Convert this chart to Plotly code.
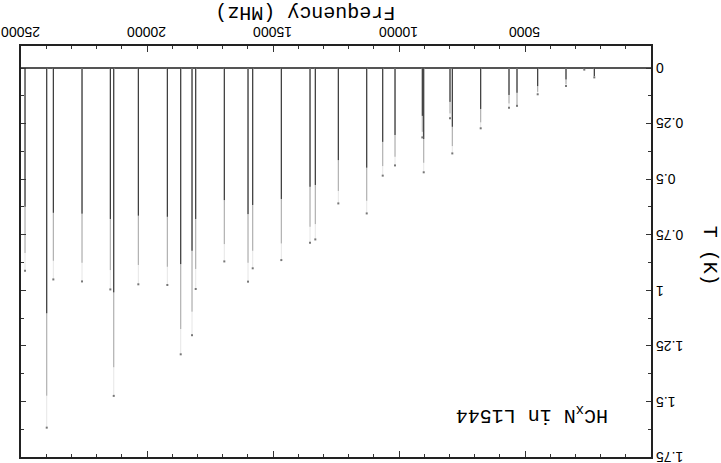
import plotly.graph_objects as go

# Line frequencies (MHz)
freq = [24840, 23979, 23717, 22578, 21455, 21320, 20344, 19193, 18662, 18213,
        18067, 16932, 15991, 15805, 14670, 13531, 13321, 12408, 11281, 10646,
        10158, 9075, 9019, 7976, 7885, 6758, 5635, 5317, 4496, 3373, 2647, 2250]
# Peak brightness temperatures (K): low / mid / high estimates
t_low = [0.624, 1.103, 0.651, 0.655, 0.679, 1.009, 0.664, 0.669, 0.882, 0.822,
         0.679, 0.594, 0.657, 0.616, 0.589, 0.534, 0.526, 0.414, 0.448, 0.332,
         0.301, 0.215, 0.319, 0.152, 0.264, 0.184, 0.121, 0.111, 0.081, 0.051, 0.004, 0.036]
t_mid = [0.832, 1.474, 0.867, 0.876, 0.909, 1.346, 0.886, 0.894, 1.174, 1.096,
         0.904, 0.792, 0.876, 0.822, 0.789, 0.714, 0.702, 0.553, 0.597, 0.441,
         0.399, 0.287, 0.426, 0.204, 0.351, 0.244, 0.159, 0.166, 0.107, 0.073, 0.006, 0.039]
t_high = [0.912, 1.618, 0.951, 0.960, 0.996, 1.475, 0.973, 0.976, 1.288, 1.202,
          0.994, 0.870, 0.961, 0.901, 0.864, 0.786, 0.771, 0.609, 0.654, 0.484,
          0.438, 0.312, 0.469, 0.226, 0.384, 0.271, 0.179, 0.170, 0.118, 0.081, 0.007, 0.042]

x_ticks = [5000, 10000, 15000, 20000, 25000]
x_tick_labels = ["5000", "10000", "15000", "20000", "25000"]
y_ticks = [0, 0.25, 0.5, 0.75, 1, 1.25, 1.5, 1.75]
y_tick_labels = ["0", "0.25", "0.5", "0.75", "1", "1.25", "1.5", "1.75"]


def sticks(values):
    xs, ys = [], []
    for f, v in zip(freq, values):
        xs += [f, f, None]
        ys += [0, v, None]
    return xs, ys


fig = go.Figure()
for vals, col in [(t_high, "#e6e6e6"), (t_mid, "#a8a8a8"), (t_low, "#2a2a2a")]:
    xs, ys = sticks(vals)
    fig.add_trace(go.Scatter(x=xs, y=ys, mode="lines",
                             line=dict(color=col, width=1), hoverinfo="skip"))
fig.add_trace(go.Scatter(x=freq, y=t_high, mode="markers",
                         marker=dict(color="#777777", size=2, symbol="square"),
                         hoverinfo="skip"))

TICK_SIZE = 14
tickfont = dict(family="Liberation Sans, Arial, sans-serif", size=TICK_SIZE, color="black")
titlefont = dict(family="Liberation Mono, Courier New, monospace", size=20, color="black")


def label_width(s):
    # approximate Arial advance widths
    return sum((0.278 if c == "." else 0.556) * TICK_SIZE for c in s)


annotations = [
    dict(text="Frequency (MHz)", xref="paper", yref="paper", x=0.451, y=1.083,
         showarrow=False, textangle=180, font=titlefont,
         xanchor="center", yanchor="middle"),
    dict(text="T (K)", xref="paper", yref="paper", x=1.094, y=0.489,
         showarrow=False, textangle=90, font=titlefont,
         xanchor="center", yanchor="middle"),
    dict(text="HC<sub>x</sub>N in L1544", xref="paper", yref="paper", x=0.812, y=0.102,
         showarrow=False, textangle=180, font=titlefont,
         xanchor="center", yanchor="middle"),
]
# upside-down tick labels placed on the axis scales
for v, lab in zip(y_ticks, y_tick_labels):
    annotations.append(dict(text=lab, xref="paper", yref="y", x=1.0, y=v,
                            xshift=5 + label_width(lab) / 2, showarrow=False,
                            textangle=180, font=tickfont,
                            xanchor="center", yanchor="middle"))
for v, lab in zip(x_ticks, x_tick_labels):
    annotations.append(dict(text=lab, xref="x", yref="paper", x=v, y=1.0,
                            yshift=14, showarrow=False, textangle=180, font=tickfont,
                            xanchor="center", yanchor="middle"))

fig.update_layout(
    width=721, height=463,
    margin=dict(l=21, r=70, t=46, b=6),
    paper_bgcolor="white", plot_bgcolor="white",
    showlegend=False,
    xaxis=dict(
        range=[25000, 0], side="top", automargin=False,
        tickmode="array", tickvals=x_ticks, showticklabels=False,
        ticks="inside", ticklen=6, tickwidth=1.2, tickcolor="#333",
        minor=dict(dtick=1000, tick0=0, ticks="inside", ticklen=3, tickcolor="#333", tickwidth=1),
        showline=True, linecolor="#222", linewidth=1.5, mirror="ticks",
        showgrid=False, zeroline=False,
    ),
    yaxis=dict(
        range=[1.75, -0.0993], side="right", automargin=False,
        tickmode="array", tickvals=y_ticks, showticklabels=False,
        ticks="inside", ticklen=5, tickwidth=1.2, tickcolor="#333",
        minor=dict(dtick=0.125, tick0=0, ticks="inside", ticklen=3, tickcolor="#333", tickwidth=1),
        showline=True, linecolor="#222", linewidth=1.5, mirror="ticks",
        showgrid=False, zeroline=True, zerolinecolor="#555", zerolinewidth=1.5,
    ),
    annotations=annotations,
)

fig.write_html("out.html", config={"displayModeBar": False},
               post_script="document.body.style.margin='0';document.body.style.padding='0';")
